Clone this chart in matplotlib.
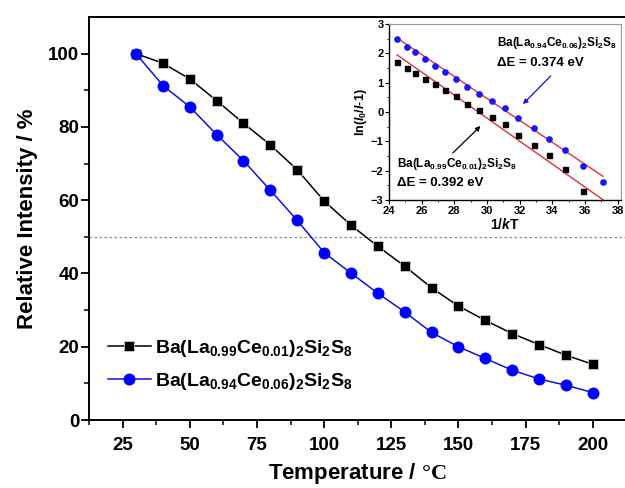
"""Thermal quenching of Ba(La,Ce)2Si2S8 emission, with Arrhenius inset."""

import matplotlib
matplotlib.use("Agg")
import matplotlib.pyplot as plt
import numpy as np

# ── Data ────────────────────────────────────────────────────────────────────

temperature = [30, 40, 50, 60, 70, 80, 90, 100, 110, 120,
               130, 140, 150, 160, 170, 180, 190, 200]
intensity_ce001 = [100, 97.4, 93.1, 87.2, 81.0, 75.1, 68.3, 59.8, 53.2, 47.4,
                   42.0, 36.1, 31.1, 27.2, 23.6, 20.6, 17.7, 15.2]
intensity_ce006 = [100, 91.3, 85.5, 77.9, 70.8, 62.7, 54.5, 45.7, 40.1, 34.6,
                   29.5, 23.9, 20.0, 16.8, 13.6, 11.2, 9.5, 7.5]

label_ce001 = r"Ba(La$_{0.99}$Ce$_{0.01}$)$_2$Si$_2$S$_8$"
label_ce006 = r"Ba(La$_{0.94}$Ce$_{0.06}$)$_2$Si$_2$S$_8$"

# inset: ln(I0/I - 1) vs 1/kT
inv_kt_ce006 = [24.5, 25.1, 25.6, 26.2, 26.8, 27.4, 28.1, 28.8, 29.5,
                30.3, 31.1, 31.9, 32.9, 33.8, 34.8, 35.9, 37.1]
ln_ce006 = [2.49, 2.23, 2.03, 1.82, 1.58, 1.36, 1.13, 0.84, 0.60,
            0.38, 0.13, -0.22, -0.55, -0.92, -1.31, -1.83, -2.39]
inv_kt_ce001 = inv_kt_ce006[:16]
ln_ce001 = [1.69, 1.51, 1.32, 1.14, 0.96, 0.76, 0.53, 0.28, 0.07,
            -0.16, -0.42, -0.78, -1.14, -1.48, -1.95, -2.68]

# linear fits: ln(I0/I - 1) = c - dE / kT
fit_de = [0.374, 0.392]
fit_c = [11.68, 11.55]
fit_range = [24.5, 37.1]

# ── Fonts ───────────────────────────────────────────────────────────────────

plt.rcParams["font.family"] = ["Liberation Sans", "DejaVu Sans"]
plt.rcParams["font.weight"] = "bold"
plt.rcParams["mathtext.fontset"] = "custom"
plt.rcParams["mathtext.rm"] = "Liberation Sans:bold"
plt.rcParams["mathtext.it"] = "Liberation Sans:bold:italic"
plt.rcParams["mathtext.bf"] = "Liberation Serif:bold"

# ── Main plot ───────────────────────────────────────────────────────────────

fig = plt.figure(figsize=(6.25, 4.88), dpi=100)
ax = fig.add_axes([0.1424, 0.1393, 0.8576, 0.8258])

ax.axhline(50, color="#888888", lw=0.9, ls=(0, (2, 2)), zorder=1)
ax.plot(temperature, intensity_ce001, "-s", color="black", lw=1.1,
        ms=6.8, mfc="black", mec="#dddddd", mew=0.5, label=label_ce001, zorder=3)
ax.plot(temperature, intensity_ce006, "-o", color="#1010e0", lw=1.1,
        ms=7.6, mfc="#0000ff", mec="#0000ff", label=label_ce006, zorder=3)

ax.set_xlim(13, 212)
ax.set_ylim(0, 110)
ax.set_xticks(np.arange(25, 201, 25))
ax.set_xticks(np.arange(12.5, 212, 12.5), minor=True)
ax.set_yticks(np.arange(0, 101, 20))
ax.set_yticks(np.arange(10, 110, 10), minor=True)
ax.spines["right"].set_visible(False)
for s in ax.spines.values():
    s.set_linewidth(1.4)
ax.tick_params(which="major", direction="out", length=6, width=1.3,
               labelsize=13.5, top=False, right=False)
ax.tick_params(which="minor", direction="out", length=3.5, width=1.1,
               top=False, right=False)
ax.tick_params(axis="y", pad=1)
ax.tick_params(axis="x", pad=6)

ax.set_ylabel("Relative Intensity / %", fontsize=16, fontweight="bold", labelpad=7)
ax.set_xlabel(r"Temperature / $\mathbf{°C}$", fontsize=16, fontweight="bold",
              labelpad=5)

ax.legend(loc="lower left", bbox_to_anchor=(0.003, 0.027), frameon=False,
          fontsize=14, handlelength=2.2, handletextpad=0.2, labelspacing=0.6)

# ── Inset ───────────────────────────────────────────────────────────────────

ins = fig.add_axes([0.6224, 0.5902, 0.3712, 0.3607])
for de, c in zip(fit_de, fit_c):
    xs = np.array(fit_range)
    ins.plot(xs, c - de * xs, color="#e0303a", lw=1.0, zorder=2)
ins.plot(inv_kt_ce006, ln_ce006, "o", color="#1818f0", ms=3.8, zorder=3)
ins.plot(inv_kt_ce001, ln_ce001, "s", color="black", ms=3.6, zorder=3)

ins.set_xlim(24, 38.2)
ins.set_ylim(-3, 3)
ins.set_xticks(np.arange(24, 39, 2))
ins.set_yticks(np.arange(-3, 4, 1))
ins.set_xticks(np.arange(25, 38, 2), minor=True)
ins.set_yticks(np.arange(-2.5, 3, 1), minor=True)
ins.tick_params(which="major", direction="out", length=3, width=0.8,
                labelsize=8, pad=1)
ins.tick_params(which="minor", direction="out", length=1.5, width=0.6)
ins.spines["left"].set_linewidth(1.0)
ins.spines["bottom"].set_linewidth(1.0)
ins.spines["top"].set_color("#999999")
ins.spines["right"].set_color("#999999")
ins.set_xlabel(r"1/$k$T", fontsize=10, fontweight="bold", labelpad=1)
ins.set_ylabel(r"ln($I_0$/$I$-1)", fontsize=9, fontweight="bold", labelpad=1)

ins.text(30.6, 2.35, label_ce006, fontsize=8.5, fontweight="bold", va="center")
ins.text(30.6, 1.67, r"ΔE = 0.374 eV", fontsize=9.5, fontweight="bold", va="center")
ins.text(24.5, -1.77, label_ce001, fontsize=8.5, fontweight="bold", va="center")
ins.text(24.5, -2.42, r"ΔE = 0.392 eV", fontsize=9.5, fontweight="bold", va="center")
ins.annotate("", xy=(32.2, 0.27), xytext=(33.9, 1.23),
             arrowprops=dict(arrowstyle="-|>", color="#1010e0", lw=0.9,
                             mutation_scale=7, shrinkA=0, shrinkB=0))
ins.annotate("", xy=(29.6, -0.48), xytext=(27.9, -1.4),
             arrowprops=dict(arrowstyle="-|>", color="black", lw=0.9,
                             mutation_scale=7, shrinkA=0, shrinkB=0))

fig.savefig("out.png", dpi=100)
